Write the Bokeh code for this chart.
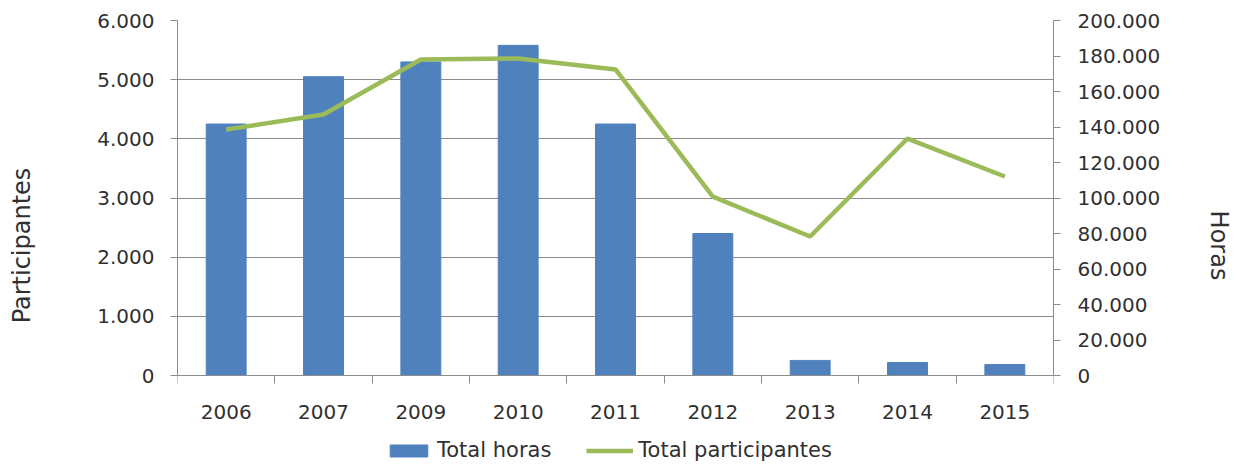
from bokeh.plotting import figure
from bokeh.models import (Range1d, LinearAxis, FixedTicker, Legend, LegendItem,
                          ColumnDataSource)
from bokeh.embed import file_html
from bokeh.resources import INLINE

years = ["2006", "2007", "2009", "2010", "2011", "2012", "2013", "2014", "2015"]
total_horas = [4250, 5050, 5300, 5580, 4250, 2400, 255, 220, 185]
total_participantes = [138600, 147000, 178000, 178600, 172400, 100800, 78300, 133500, 112100]
left_ticks = [0, 1000, 2000, 3000, 4000, 5000, 6000]
right_ticks = [0, 20000, 40000, 60000, 80000, 100000, 120000, 140000, 160000, 180000, 200000]

FONT = "DejaVu Sans"
TXT = "#303030"
GRID = "#8c8c8c"

# layout: plot area 355px tall for the data, 95px extra below for labels/legend
PLOT_H = 355
EXTRA_H = 95
LEFT_MAX = 6000
RIGHT_MAX = 200000

xs = [i + 0.5 for i in range(len(years))]
src = ColumnDataSource(dict(x=xs, horas=total_horas, part=total_participantes))

p = figure(output_backend="svg", toolbar_location=None,
           x_range=Range1d(0, len(years)),
           y_range=Range1d(-LEFT_MAX * EXTRA_H / PLOT_H, LEFT_MAX),
           min_border_left=177, min_border_right=175, min_border_top=20,
           min_border_bottom=0, frame_width=876, frame_height=PLOT_H + EXTRA_H)
p.outline_line_color = None
p.extra_y_ranges = {"right": Range1d(-RIGHT_MAX * EXTRA_H / PLOT_H, RIGHT_MAX)}

bars = p.vbar(x="x", top="horas", bottom=0, width=0.41, source=src, color="#4f81bd")
line = p.line(x="x", y="part", source=src, y_range_name="right",
              line_color="#9bbb59", line_width=4.5)

def fmt(v):
    return f"{v:,}".replace(",", ".")

# bottom axis, drawn at y = 0
xa = p.xaxis[0]
xa.fixed_location = 0
xa.ticker = FixedTicker(ticks=xs, minor_ticks=list(range(len(years) + 1)))
xa.major_label_overrides = {x: y for x, y in zip(xs, years)}
xa.major_tick_out = 0
xa.major_tick_in = 0
xa.minor_tick_out = 8
xa.minor_tick_in = 0
xa.minor_tick_line_color = GRID
xa.axis_line_color = GRID
xa.major_label_standoff = 21
xa.major_label_text_font = FONT
xa.major_label_text_font_size = "20px"
xa.major_label_text_color = TXT

# left axis
ya = p.yaxis[0]
ya.bounds = (0, LEFT_MAX)
ya.ticker = FixedTicker(ticks=left_ticks)
ya.major_label_overrides = {v: fmt(v) for v in left_ticks}
ya.major_tick_out = 7
ya.major_tick_in = 0
ya.major_tick_line_color = GRID
ya.minor_tick_line_color = None
ya.axis_line_color = GRID
ya.major_label_standoff = 16
ya.major_label_text_font = FONT
ya.major_label_text_font_size = "20px"
ya.major_label_text_color = TXT
ya.axis_label = "Participantes"
ya.axis_label_text_font = FONT
ya.axis_label_text_font_size = "24px"
ya.axis_label_text_font_style = "normal"
ya.axis_label_text_color = TXT
ya.axis_label_standoff = 58

# right axis
ra = LinearAxis(y_range_name="right", ticker=FixedTicker(ticks=right_ticks),
                bounds=(0, RIGHT_MAX))
ra.major_label_overrides = {v: fmt(v) for v in right_ticks}
ra.major_tick_out = 7
ra.major_tick_in = 0
ra.major_tick_line_color = GRID
ra.minor_tick_line_color = None
ra.axis_line_color = GRID
ra.major_label_standoff = 17
ra.major_label_text_font = FONT
ra.major_label_text_font_size = "20px"
ra.major_label_text_color = TXT
ra.axis_label = "Horas"
ra.axis_label_text_font = FONT
ra.axis_label_text_font_size = "24px"
ra.axis_label_text_font_style = "normal"
ra.axis_label_text_color = TXT
ra.axis_label_standoff = 42
p.add_layout(ra, "right")

p.xgrid.grid_line_color = None
p.ygrid.ticker = FixedTicker(ticks=left_ticks)
p.ygrid.grid_line_color = GRID
p.ygrid.grid_line_width = 1

legend = Legend(items=[LegendItem(label="Total horas", renderers=[bars]),
                       LegendItem(label="Total participantes", renderers=[line])],
                orientation="horizontal", location=(208, 8),
                border_line_color=None, background_fill_alpha=0,
                label_text_font=FONT, label_text_font_size="21px",
                label_text_color=TXT, glyph_width=47, glyph_height=15,
                label_height=15, label_standoff=5, spacing=35, padding=0, margin=0)
p.add_layout(legend)

open("out.html", "w").write(file_html(p, INLINE))
